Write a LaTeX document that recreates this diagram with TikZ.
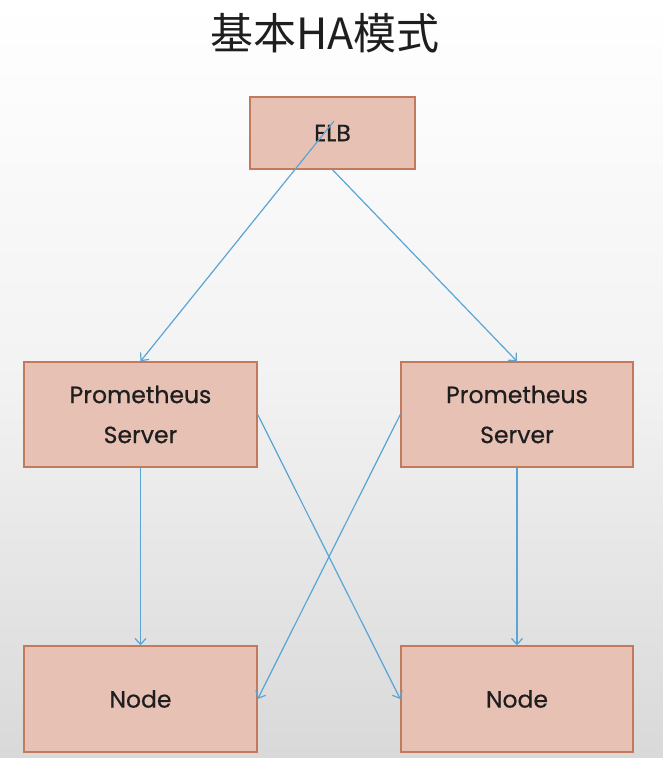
\documentclass[tikz,border=0pt]{standalone}
\usepackage{fontspec}
\setmainfont{Poppins}[FakeBold=0.5]
\newfontfamily\cjk{Noto Sans CJK SC}
\newfontfamily\boxfont{Poppins}[FakeBold=0.6]
\usetikzlibrary{arrows.meta}
\definecolor{boxfill}{HTML}{E8C1B5}
\definecolor{boxline}{HTML}{C27A5E}
\definecolor{arrowc}{HTML}{5BA5D4}
\definecolor{txt}{HTML}{1E1E1E}
\begin{document}
\begin{tikzpicture}[x=1pt,y=-1pt,
  box/.style={draw=boxline, fill=boxfill, line width=1.4pt, align=center,
    text=txt, font=\boxfont\fontsize{23.5}{40}\selectfont, inner sep=0pt},
  conn/.style={draw=arrowc, line width=1.2pt, -{Straight Barb[length=6pt,width=11pt]}}]
\shade[top color=white, bottom color=black!15, middle color=black!5] (0,0) rectangle (663,758);
\useasboundingbox (0,0) rectangle (663,758);
\node[text=txt] (title) at (325,33) {\cjk\fontsize{43}{50}\selectfont 基本HA模式};
\node[box, minimum width=165pt, minimum height=72pt] (elb) at (332.5,133) {ELB};
\node[box, minimum width=233pt, minimum height=105pt] (psl) at (140.5,414.5) {Prometheus\\Server};
\node[box, minimum width=232pt, minimum height=105pt] (psr) at (517,414.5) {Prometheus\\Server};
\node[box, minimum width=233pt, minimum height=106pt] (nodel) at (140.5,699) {Node};
\node[box, minimum width=232pt, minimum height=106pt] (noder) at (517,699) {Node};
\coordinate (elbin) at (334,121);
\draw[conn] (elbin) -- (psl.north);
\draw[conn] (elb.south) -- (psr.north);
\draw[conn] (psl.south) -- (nodel.north);
\draw[conn] (psr.south) -- (noder.north);
\draw[conn] (psl.east) -- (noder.west);
\draw[conn] (psr.west) -- (nodel.east);
\end{tikzpicture}
\end{document}
